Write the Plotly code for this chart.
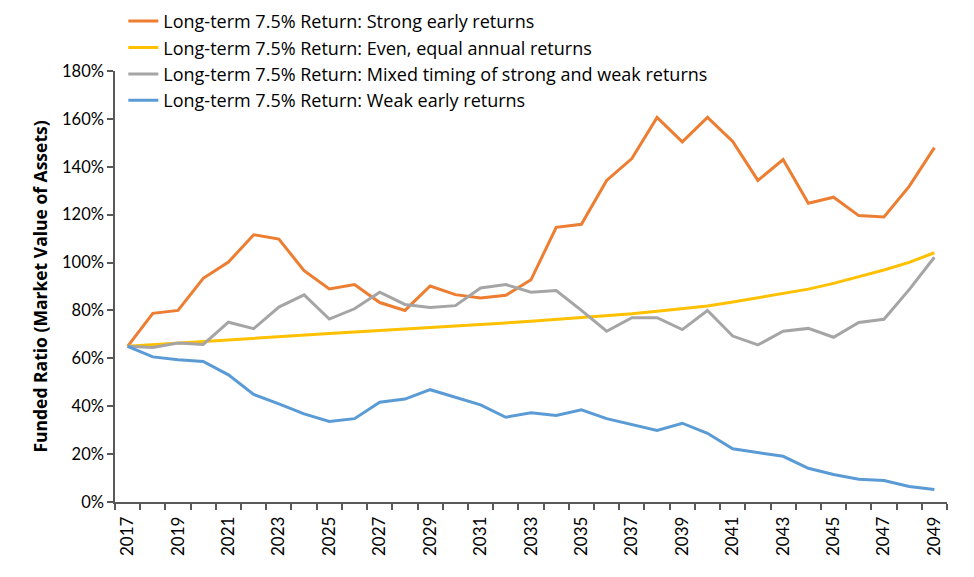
import plotly.graph_objects as go

years = list(range(2017, 2050))

strong_early = [65.0, 78.8, 80.0, 93.4, 100.2, 111.6, 109.8, 96.6, 89.0, 90.8, 83.3, 80.0, 90.2,
                86.6, 85.2, 86.3, 92.8, 114.7, 116.0, 134.3, 143.4, 160.6, 150.4, 160.6, 150.6,
                134.3, 143.0, 124.8, 127.3, 119.6, 119.0, 131.8, 148.0]
even_equal = [65.0, 65.7, 66.4, 67.2, 67.9, 68.5, 69.1, 69.8, 70.4, 71.0, 71.6, 72.1, 72.7,
              73.4, 74.1, 74.8, 75.5, 76.2, 76.9, 77.6, 78.6, 79.7, 80.8, 81.9, 83.5,
              85.3, 87.0, 88.9, 91.3, 94.0, 96.9, 100.1, 104.1]
mixed_timing = [65.0, 64.5, 66.4, 65.8, 75.1, 72.4, 81.4, 86.5, 76.4, 80.7, 87.6, 82.5, 81.2,
                82.0, 89.4, 90.8, 87.6, 88.3, 80.0, 71.3, 77.0, 77.0, 72.0, 80.0, 69.3,
                65.6, 71.3, 72.5, 68.8, 75.0, 76.3, 88.7, 102.2]
weak_early = [65.0, 60.6, 59.4, 58.7, 53.1, 44.9, 41.0, 36.8, 33.6, 34.8, 41.7, 43.0, 46.9,
              43.8, 40.6, 35.4, 37.3, 36.1, 38.5, 34.8, 32.4, 29.9, 32.9, 28.7, 22.2,
              20.8, 19.1, 14.1, 11.5, 9.5, 9.0, 6.5, 5.2]

series_names = [
    "Long-term 7.5% Return: Strong early returns",
    "Long-term 7.5% Return: Even, equal annual returns",
    "Long-term 7.5% Return: Mixed timing of strong and weak returns",
    "Long-term 7.5% Return: Weak early returns",
]
series_values = [strong_early, even_equal, mixed_timing, weak_early]
colors = ["#ED7D31", "#FFC000", "#A5A5A5", "#5B9BD5"]

y_ticks = [0, 20, 40, 60, 80, 100, 120, 140, 160, 180]

FONT = "Lato"
axis_color = "#595959"

fig = go.Figure()
for name, vals, col in zip(series_names, series_values, colors):
    fig.add_trace(go.Scatter(
        x=years, y=[v / 100 for v in vals], mode="lines", name=name,
        line=dict(color=col, width=3),
    ))

label_years = years[::2]
boundaries = [y - 0.5 for y in years] + [years[-1] + 0.5]

fig.update_layout(
    width=974, height=577,
    margin=dict(l=115, r=27, t=71, b=75, autoexpand=False),
    paper_bgcolor="white", plot_bgcolor="white",
    font=dict(family=FONT, size=16, color="#000000"),
    showlegend=True,
    legend=dict(
        x=0.01, y=1.158, xanchor="left", yanchor="top",
        bgcolor="rgba(255,255,255,0)", font=dict(family="Open Sans", size=18, color="#000000"),
        tracegroupgap=0, itemwidth=30,
    ),
    xaxis=dict(
        range=[years[0] - 0.5, years[-1] + 0.5],
        tickmode="array", tickvals=label_years, ticktext=[str(y) for y in label_years],
        tickangle=-90, ticks="", showgrid=False, zeroline=False,
        showline=True, linecolor=axis_color, linewidth=1.5,
        tickfont=dict(family=FONT, size=17, color="#000000"),
        ticklabelstandoff=6,
        minor=dict(tickmode="array", tickvals=boundaries, ticks="outside", ticklen=6,
                   tickcolor=axis_color, tickwidth=1.5, showgrid=False),
    ),
    yaxis=dict(
        range=[0, 1.8],
        tickmode="array", tickvals=[t / 100 for t in y_ticks],
        ticktext=[f"{t}%" for t in y_ticks],
        ticks="outside", ticklen=6, tickcolor=axis_color, tickwidth=1.5,
        showgrid=False, zeroline=False,
        showline=True, linecolor=axis_color, linewidth=1.5,
        tickfont=dict(family=FONT, size=16.5, color="#000000"),
        title=dict(text="<b>Funded Ratio (Market Value of Assets)</b>",
                   font=dict(family="Open Sans", size=17.5, color="#000000"), standoff=10),
    ),
)

fig.write_html("out.html")
